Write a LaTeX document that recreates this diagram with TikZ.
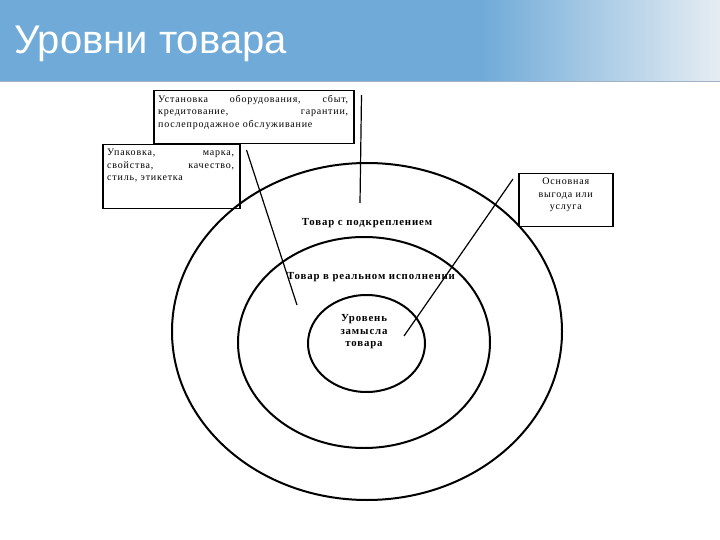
\documentclass[tikz,border=0pt]{standalone}
\usepackage{fontspec}
\setmainfont{Liberation Serif}
\newfontfamily\titlefont{Liberation Sans}
\newfontfamily\scanfont[LetterSpace=8]{Liberation Serif}

\definecolor{titleblue}{RGB}{111,170,216}
\definecolor{titlepale}{RGB}{230,237,243}
\definecolor{titleline}{RGB}{160,178,196}

\tikzset{
  levelbox/.style={draw, line width=1.5pt, anchor=north west, inner sep=0pt},
  boxtext/.style={anchor=north west, inner sep=0pt, align=justify,
    font=\scanfont\fontsize{10}{12.5}\selectfont},
  levellabel/.style={align=center, inner sep=1pt,
    font=\scanfont\bfseries\fontsize{10.8}{12.5}\selectfont},
  pointer/.style={line width=1.2pt}
}

\begin{document}
\begin{tikzpicture}[x=1pt,y=-1pt]
  \useasboundingbox (0,0) rectangle (720,540);

  % title bar
  \fill[titleblue] (0,0) rectangle (480,82);
  \shade[left color=titleblue, right color=titlepale] (480,0) rectangle (720,82);
  \draw[titleline, line width=1pt] (0,82) -- (720,82);
  \node[anchor=west, text=white, inner sep=0pt,
        font=\titlefont\fontsize{40}{44}\selectfont] (title) at (14,44) {Уровни товара};

  % levels of the product
  \draw[line width=2pt] (367,331.5) ellipse (195 and 168.5);
  \draw[line width=2pt] (364,342.5) ellipse (126 and 105.5);
  \draw[line width=2pt] (366.5,343.5) ellipse (58.5 and 48.5);

  \node[levellabel] (augmented) at (367,223) {Товар с подкреплением};
  \node[levellabel] (actual)    at (371,277) {Товар в реальном исполнении};
  \node[levellabel] (core)      at (364,332) {Уровень\\ замысла\\ товара};

  % boxes
  \node[levelbox, minimum width=200pt, minimum height=53pt] (service) at (153,90) {};
  \node[boxtext, text width=190pt] (servicetext) at ([xshift=5pt,yshift=-5pt]service.north west)
    {Установка\hfill оборудования,\hfill сбыт,\\ кредитование,\hfill гарантии,\\ послепродажное обслуживание};

  \node[levelbox, minimum width=137pt, minimum height=64pt] (product) at (102,144) {};
  \node[boxtext, text width=127pt] (producttext) at ([xshift=5pt,yshift=-5pt]product.north west)
    {Упаковка,\hfill марка,\\ свойства,\hfill качество,\\ стиль, этикетка};

  \node[levelbox, minimum width=94pt, minimum height=53pt] (benefit) at (518,173) {};
  \node[boxtext, align=center, anchor=north] (benefittext) at ([yshift=-5pt]benefit.north)
    {Основная\\ выгода или\\ услуга};

  % pointers
  \coordinate (servicetip) at (360,203);
  \coordinate (producttip) at (297,305);
  \coordinate (coretip)    at (404,336);
  \draw[pointer] ([xshift=7pt,yshift=-5pt]service.north east) -- (servicetip);
  \draw[pointer] ([xshift=6pt,yshift=-6pt]product.north east) -- (producttip);
  \draw[pointer] ([xshift=-5pt,yshift=-6pt]benefit.north west) -- (coretip);
\end{tikzpicture}
\end{document}
